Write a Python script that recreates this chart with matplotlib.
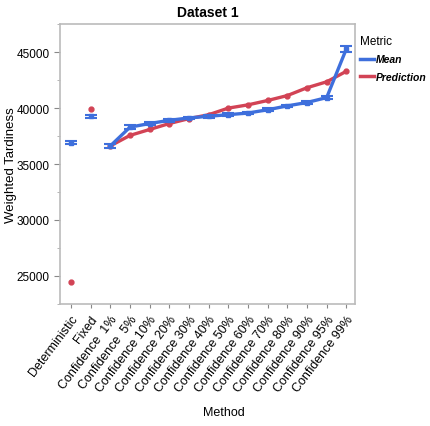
import numpy as np
import matplotlib.pyplot as plt
from matplotlib.lines import Line2D

plt.rcParams['font.family'] = ['DejaVu Sans Condensed', 'Liberation Sans', 'DejaVu Sans']

methods = ["Deterministic", "Fixed", "Confidence  1%", "Confidence  5%", "Confidence 10%",
           "Confidence 20%", "Confidence 30%", "Confidence 40%", "Confidence 50%",
           "Confidence 60%", "Confidence 70%", "Confidence 80%", "Confidence 90%",
           "Confidence 95%", "Confidence 99%"]
mean_vals = [36900, 39270, 36620, 38300, 38620, 38910, 39120, 39270, 39410,
             39560, 39850, 40200, 40500, 40940, 45290]
mean_err = [150, 120, 180, 150, 120, 120, 120, 120, 120, 120, 120, 120, 120, 150, 300]
pred_vals = [24500, 39940, 36620, 37560, 38090, 38620, 39060, 39410, 40000,
             40290, 40680, 41120, 41820, 42350, 43290]

blue = "#3e6fdc"
red = "#d24355"

fig = plt.figure(figsize=(4.3, 4.27), dpi=100)
ax = fig.add_axes([0.14, 0.286, 0.686, 0.655])

x = np.arange(len(methods))
conf = x >= 2

ax.plot(x[conf], np.array(pred_vals)[conf], color=red, lw=2.4, zorder=2)
ax.plot(x[conf], np.array(mean_vals)[conf], color=blue, lw=2.4, zorder=3)
ax.plot(x, pred_vals, 'o', color=red, ms=3.5, zorder=4)
ax.errorbar(x, mean_vals, yerr=mean_err, fmt='s', color=blue, ms=3.5,
            capsize=4, elinewidth=1.5, capthick=1.5, zorder=5)

ax.set_xlim(-0.55, 14.45)
ax.set_ylim(22600, 47500)
ax.set_yticks([25000, 30000, 35000, 40000, 45000])
ax.set_yticks(np.arange(22500, 47501, 2500), minor=True)
ax.set_xticks(x)
ax.set_xticklabels(methods, rotation=53, ha='right', rotation_mode='anchor', fontsize=9)
ax.tick_params(axis='y', labelsize=8.5, color='#888888', length=4)
ax.tick_params(axis='y', which='minor', color='#aaaaaa', length=2.5)
ax.tick_params(axis='x', color='#888888', length=3)
for s in ax.spines.values():
    s.set_color('#bbbbbb')
    s.set_linewidth(1.2)

ax.set_title("Dataset 1", fontsize=10, fontweight='bold', pad=6)
ax.set_ylabel("Weighted Tardiness", fontsize=9.5)
ax.yaxis.set_label_coords(-0.145, 0.5)
fig.text(0.52, 0.025, "Method", ha='center', fontsize=9)

handles = [Line2D([0], [0], color=blue, lw=2.5), Line2D([0], [0], color=red, lw=2.5)]
leg = fig.legend(handles, ["Mean", "Prediction"], title="Metric", loc='upper left',
                 bbox_to_anchor=(0.828, 0.925), frameon=False, fontsize=7.5,
                 title_fontsize=8.5, handlelength=1.3, handletextpad=0.2,
                 borderaxespad=0, labelspacing=0.7)
leg._legend_box.align = "left"
for t in leg.get_texts():
    t.set_fontweight('bold')
    t.set_fontstyle('italic')

fig.savefig("out.png", dpi=100)
